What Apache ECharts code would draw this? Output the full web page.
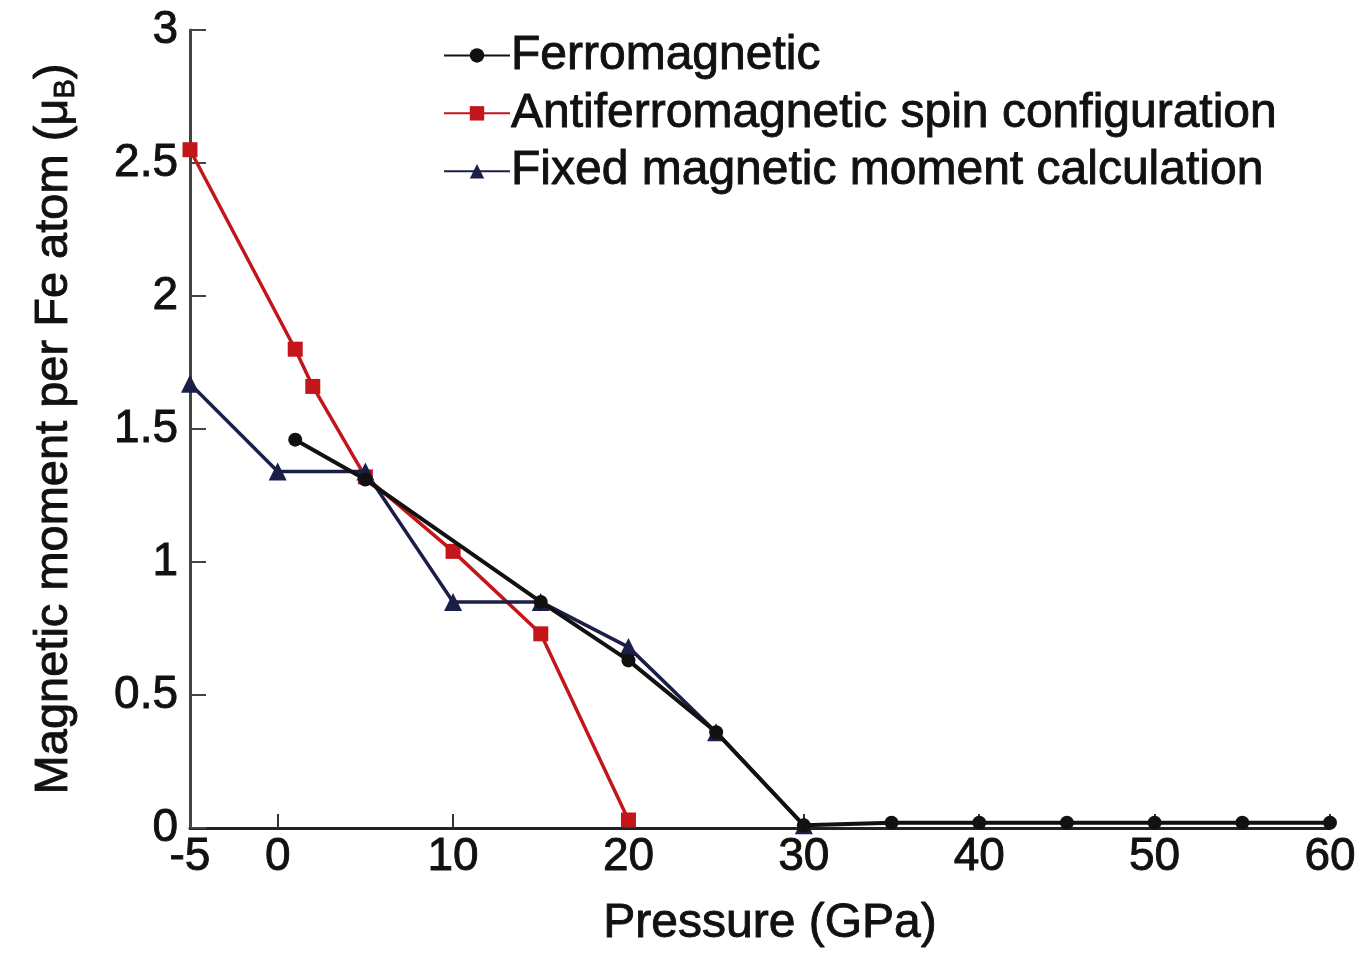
<!DOCTYPE html>
<html>
<head>
<meta charset="utf-8">
<title>Magnetic moment vs pressure</title>
<script src="https://cdn.jsdelivr.net/npm/echarts@6/dist/echarts.min.js"></script>
<style>
  html, body { margin: 0; padding: 0; background: #fff; }
  #chart { width: 1363px; height: 961px; }
</style>
</head>
<body>
<div id="chart"></div>
<script>
// Pressure (GPa) and magnetic moment per Fe atom (μB) for each calculation
const ferroP  = [1, 5, 15, 20, 25, 30, 35, 40, 45, 50, 55, 60];
const ferroM  = [1.46, 1.31, 0.85, 0.63, 0.36, 0.01, 0.02, 0.02, 0.02, 0.02, 0.02, 0.02];
const afmP    = [-5, 1, 2, 5, 10, 15, 20];
const afmM    = [2.55, 1.80, 1.66, 1.32, 1.04, 0.73, 0.03];
const fixedP  = [-5, 0, 5, 10, 15, 20, 25, 30];
const fixedM  = [1.67, 1.34, 1.34, 0.85, 0.85, 0.68, 0.36, 0.01];

const xLabels = [-5, 0, 10, 20, 30, 40, 50, 60];
const xTicks  = [0, 10, 20, 30, 40, 50, 60];
const seriesNames = [
  'Ferromagnetic',
  'Antiferromagnetic spin configuration',
  'Fixed magnetic moment calculation'
];

const pairs = (xs, ys) => xs.map((x, i) => [x, ys[i]]);
const FONT = '"Liberation Sans", Arial, sans-serif';
const TXT = '#111';
// slightly heavier strokes for the printed-look labels
const heavy = { textBorderColor: TXT, textBorderWidth: 0.9 };

const chart = echarts.init(document.getElementById('chart'));
chart.setOption({
  backgroundColor: '#fff',
  animation: false,
  grid: { left: 190, right: 33, top: 30, bottom: 133 },
  legend: {
    left: 438, top: 26, orient: 'vertical',
    itemWidth: 66, itemHeight: 18, itemGap: 9,
    textStyle: Object.assign({ fontFamily: FONT, fontSize: 48, lineHeight: 48, color: TXT, padding: [0, 0, 0, -4] }, heavy),
    data: [seriesNames[0], seriesNames[1], seriesNames[2]]
  },
  xAxis: {
    type: 'value', min: -5, max: 60,
    name: 'Pressure (GPa)', nameLocation: 'middle', nameGap: 72,
    nameTextStyle: Object.assign({ fontFamily: FONT, fontSize: 48, color: TXT, padding: [0, 0, 0, 20] }, heavy),
    axisLine: { onZero: false, lineStyle: { color: '#222', width: 3 } },
    axisTick: { inside: true, length: 14, customValues: xTicks, lineStyle: { color: '#333', width: 2 } },
    axisLabel: Object.assign({ customValues: xLabels, fontFamily: FONT, fontSize: 46, color: TXT, margin: 6 }, heavy),
    splitLine: { show: false }
  },
  yAxis: {
    type: 'value', min: 0, max: 3, interval: 0.5,
    name: 'Magnetic moment per Fe atom (μ{sub|B})',
    nameLocation: 'middle', nameGap: 110, nameRotate: 90,
    nameTextStyle: Object.assign({
      fontFamily: FONT, fontSize: 47, color: TXT,
      rich: { sub: Object.assign({ fontFamily: FONT, fontSize: 29, color: TXT, verticalAlign: 'bottom', padding: [22, 0, 0, 0] }, heavy) }
    }, heavy),
    axisLine: { show: true, onZero: false, lineStyle: { color: '#444', width: 3 } },
    axisTick: { inside: true, length: 16, lineStyle: { color: '#444', width: 2 } },
    axisLabel: Object.assign({ fontFamily: FONT, fontSize: 46, color: TXT, margin: 12 }, heavy),
    splitLine: { show: false }
  },
  series: [
    {
      name: seriesNames[1], type: 'line', z: 2,
      data: pairs(afmP, afmM),
      symbol: 'rect', symbolSize: 15,
      lineStyle: { color: '#c3161b', width: 3.5 },
      itemStyle: { color: '#c3161b' }
    },
    {
      name: seriesNames[2], type: 'line', z: 3,
      data: pairs(fixedP, fixedM),
      symbol: 'triangle', symbolSize: 18,
      lineStyle: { color: '#1b1f48', width: 3.5 },
      itemStyle: { color: '#1b1f48' }
    },
    {
      name: seriesNames[0], type: 'line', z: 4,
      data: pairs(ferroP, ferroM),
      symbol: 'circle', symbolSize: 14,
      lineStyle: { color: '#111', width: 4 },
      itemStyle: { color: '#111' }
    }
  ]
});
</script>
</body>
</html>
